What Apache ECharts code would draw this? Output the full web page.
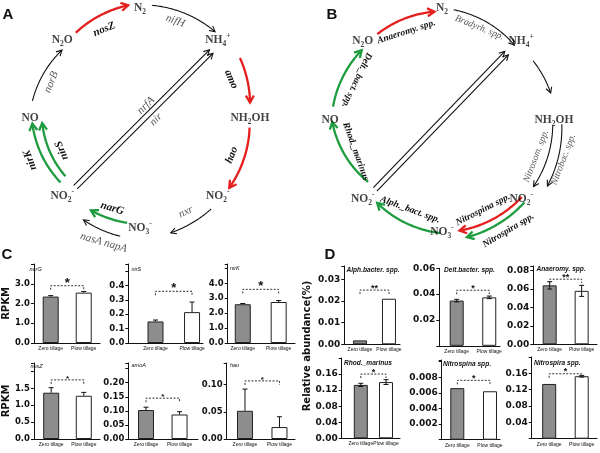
<!DOCTYPE html>
<html><head><meta charset="utf-8">
<script src="https://cdn.jsdelivr.net/npm/echarts@6/dist/echarts.min.js"></script>
<style>html,body{margin:0;padding:0;background:#fff}#c{width:600px;height:453px}</style>
</head><body><div id="c"></div>
<script>
// ================= DATA =================
const categories = ['Zero tillage', 'Plow tillage'];

// Panel C: functional genes (RPKM)
const geneNames   = ['narG', 'nirS', 'nirK', 'nosZ', 'amoA', 'hao'];
const geneZero    = [2.35, 0.15, 2.6, 1.37, 0.103, 0.052];
const geneZeroErr = [0.05, 0.01, 0.05, 0.15, 0.01, 0.04];
const genePlow    = [2.55, 0.215, 2.75, 1.28, 0.087, 0.022];
const genePlowErr = [0.06, 0.07, 0.1, 0.1, 0.01, 0.019];
const geneSig     = ['*', '*', '*', '*', '*', '*'];
const geneSigLevel= [2.9, 0.36, 3.6, 1.75, 0.145, 0.107];

// Panel D: taxa (relative abundance %)
const taxaNames   = ['Alph.bacter. spp.', 'Delt.bacter. spp.', 'Anaeromy. spp.', 'Rhod._marinus', 'Nitrospina spp.', 'Nitrospira spp.'];
const taxaZero    = [0.0018, 0.035, 0.064, 0.133, 0.0066, 0.134];
const taxaZeroErr = [0, 0.001, 0.004, 0.004, 0, 0];
const taxaPlow    = [0.021, 0.0375, 0.058, 0.14, 0.0062, 0.153];
const taxaPlowErr = [0, 0.001, 0.006, 0.006, 0, 0.002];
const taxaSig     = ['**', '*', '**', '*', '*', '*'];
const taxaSigLevel= [0.025, 0.043, 0.0707, 0.16, 0.0076, 0.159];

// Y-axis scales (max, interval, lowest and highest labelled tick, decimals)
const geneAxisMax = [4, 0.55, 5.3, 2.25, 0.27, 0.14];
const geneAxisStep= [1, 0.1, 1, 0.5, 0.05, 0.05];
const geneTickLo  = [0, 0, 0, 0, 0, 0];
const geneTickHi  = [3, 0.4, 4, 1.5, 0.2, 0.1];
const geneTickDec = [1, 1, 1, 1, 2, 2];
const taxaAxisMax = [0.0361, 0.06, 0.085, 0.2, 0.0102, 0.2];
const taxaAxisStep= [0.01, 0.02, 0.02, 0.04, 0.002, 0.04];
const taxaTickLo  = [0, 0.02, 0, 0, 0.002, 0.04];
const taxaTickHi  = [0.03, 0.06, 0.08, 0.16, 0.008, 0.16];
const taxaTickDec = [2, 2, 2, 2, 3, 2];

// Nitrogen cycle nodes (in cycle order, clockwise from top)
const cycleNodes = ['N{s|2}', 'NH{s|4}{p|+}', 'NH{s|2}OH', 'NO{s|2}{p|-}', 'NO{s|3}{p|-}', 'NO{s|2}{p|-}', 'NO', 'N{s|2}O'];

// Pathway edges, panel A (genes)
const edgesA = [
  {from: 7, to: 0, label: 'nosZ', tone: 'red'},
  {from: 0, to: 1, label: 'nifH', tone: 'black'},
  {from: 1, to: 2, label: 'amo', tone: 'red'},
  {from: 2, to: 3, label: 'hao', tone: 'red'},
  {from: 3, to: 4, label: 'nxr', tone: 'black'},
  {from: 4, to: 5, label: 'narG', tone: 'green'},
  {from: 4, to: 5, label: 'nasA napA', tone: 'black'},
  {from: 5, to: 6, label: 'nirK', tone: 'green'},
  {from: 5, to: 6, label: 'nirS', tone: 'green'},
  {from: 6, to: 7, label: 'norB', tone: 'black'},
  {from: 5, to: 1, label: 'nrfA', tone: 'black'},
  {from: 5, to: 1, label: 'nir', tone: 'black'}
];
// Pathway edges, panel B (taxa)
const edgesB = [
  {from: 7, to: 0, label: 'Anaeromy. spp.', tone: 'red'},
  {from: 0, to: 1, label: 'Bradyrh. spp.', tone: 'black'},
  {from: 1, to: 2, label: '', tone: 'black'},
  {from: 2, to: 3, label: 'Nitrosom. spp.', tone: 'black'},
  {from: 2, to: 3, label: 'Nitrobac. spp.', tone: 'black'},
  {from: 3, to: 4, label: 'Nitrospina spp.', tone: 'red'},
  {from: 3, to: 4, label: 'Nitrospira spp.', tone: 'green'},
  {from: 4, to: 5, label: 'Alph._bact. spp.', tone: 'green'},
  {from: 5, to: 6, label: 'Rhod._marinus', tone: 'green'},
  {from: 6, to: 7, label: 'Delt._bact. spp.', tone: 'green'},
  {from: 5, to: 1, label: '', tone: 'black'},
  {from: 5, to: 1, label: '', tone: 'black'}
];

// ================= LAYOUT / STYLE =================
const SERIF = "'Liberation Serif','Times New Roman',serif";
const SANS = "'Liberation Sans',Arial,sans-serif";
const TICKF = "'DejaVu Sans',sans-serif";
const toneColor = {red: '#e4201f', green: '#1f9c40', black: '#111'};

// arc geometry: angle offsets (deg) from the node angles, radii (fraction), label radius/angle shift/rotation
const layA = [
  {d1: 8, d2: -6, r1: 0.97, r2: 1.03, lr: 0.87, dl: -0.5, rot: 22},
  {d1: 6, d2: -4, r1: 1.03, r2: 1.04, lr: 0.94, dl: -3.5, rot: -20},
  {d1: 14, d2: -8, r1: 1.06, r2: 1.01, lr: 0.9, dl: -3.5, rot: -67},
  {d1: 5, d2: -7, r1: 1.0, r2: 1.03, lr: 0.9, dl: 0.5, rot: 68},
  {d1: 7, d2: -15, r1: 1.05, r2: 1.08, lr: 0.95, dl: 0.5, rot: 26},
  {d1: 7, d2: -17, r1: 0.96, r2: 0.95, lr: 0.86, dl: -0.5, rot: -17},
  {d1: 9.5, d2: -16, r1: 1.09, r2: 1.06, lr: 1.18, dl: -3, rot: -16},
  {d1: 6, d2: -3, r1: 0.93, r2: 0.98, lr: 1.07, dl: 0, rot: 111},
  {d1: 7, d2: -3, r1: 0.86, r2: 0.89, lr: 0.77, dl: -2, rot: 111},
  {d1: 9, d2: -4, r1: 0.99, r2: 0.94, lr: 0.87, dl: -3, rot: 68},
  {d1: -2, d2: 2, r1: 0.86, r2: 0.885, shift: 2.5, ln: 8, lu: 11.7, rot: 45},
  {d1: -2, d2: 2, r1: 0.86, r2: 0.885, shift: -2.5, ln: -9, lu: 8.8, rot: 45}
];
const layB = [
  {d1: 8, d2: -4, r1: 0.96, r2: 0.97, lr: 0.85, dl: -1.5, rot: 18},
  {d1: 6, d2: -1, r1: 0.99, r2: 0.93, lr: 0.89, dl: -3, rot: -22},
  {d1: 12, d2: -14, r1: 0.97, r2: 1.0},
  {d1: 3, d2: -9, r1: 0.99, r2: 1.01, lr: 0.9, dl: 1.5, rot: 69},
  {d1: 2, d2: -13, r1: 1.07, r2: 1.11, lr: 1.14, dl: 1, rot: 69},
  {d1: -1, d2: -9, r1: 0.99, r2: 1.0, lr: 0.88, dl: 3, rot: 27},
  {d1: 0, d2: -12, r1: 1.04, r2: 1.07, lr: 1.15, dl: -2.5, rot: 31},
  {d1: 1, d2: -7, r1: 1.01, r2: 0.94, lr: 0.85, dl: 0, rot: -20},
  {d1: 5, d2: -1, r1: 0.86, r2: 0.98, lr: 0.82, dl: 0.5, rot: -70},
  {d1: 7, d2: -4, r1: 0.98, r2: 0.95, lr: 0.84, dl: 1, rot: -115},
  {d1: -1, d2: -1, r1: 0.86, r2: 0.83, shift: 2.5},
  {d1: -1, d2: -1, r1: 0.86, r2: 0.83, shift: -2.5}
];

// grid boxes: [left(axis x), top, width, height, xMin, xMax]
const geneBox = [
  [27, 264, 73, 79, -0.507, 1.493],
  [128.3, 264, 74.7, 79, -0.745, 1.30],
  [227.7, 264, 67.3, 79, -0.42, 1.455],
  [26.7, 363, 73.3, 76, -0.528, 1.497],
  [128.3, 363, 69.7, 76, -0.528, 1.55],
  [226.7, 363, 68.3, 76, -0.53, 1.45]
];
const taxaBox = [
  [344.3, 266, 55.7, 78.3, -0.541, 1.38],
  [439.3, 268.3, 60.7, 77.5, -0.534, 1.33],
  [533.3, 266, 63.7, 78.3, -0.5125, 1.48],
  [341.7, 358, 58.3, 80.3, -0.758, 1.555],
  [441.7, 360, 58.3, 79.7, -0.477, 1.306],
  [531.7, 357, 65.3, 81.7, -0.538, 1.47]
];
const geneTitlePos = [[29.5, 269], [131.5, 269], [230, 268], [30.5, 366], [131.5, 365], [230, 365]];
const taxaTitlePos = [[346.5, 270], [444, 270], [536.5, 269], [344, 363.5], [443, 364.5], [534, 363.5]];

// ================= BUILD =================
const option = {
  animation: false,
  backgroundColor: '#fff',
  polar: [{center: [140, 118], radius: 110}, {center: [442, 120], radius: 112}],
  angleAxis: [0, 1].map(i => ({polarIndex: i, type: 'value', min: 0, max: 360, startAngle: 90, clockwise: true, show: false})),
  radiusAxis: [0, 1].map(i => ({polarIndex: i, type: 'value', min: 0, max: 1, show: false})),
  grid: [], xAxis: [], yAxis: [], series: [], graphic: []
};

const nodeAngle = i => i * 360 / cycleNodes.length;

function cycleSeries(pi, edges, lay, fontSize) {
  return {
    type: 'custom', coordinateSystem: 'polar', polarIndex: pi, silent: true, z: 2,
    data: edges.map(e => [1, nodeAngle(e.from)]),
    renderItem(params, api) {
      const e = edges[params.dataIndex], L = lay[params.dataIndex];
      const col = toneColor[e.tone];
      const heavy = e.tone !== 'black';
      const lw = heavy ? 2.3 : 1.1;
      const a1 = nodeAngle(e.from) + L.d1;
      let a2 = nodeAngle(e.to) + L.d2;
      let pts = [];
      const children = [];
      let labelPos = null;
      if (L.shift !== undefined) {
        const p = api.coord([L.r1, a1]), q = api.coord([L.r2, a2]);
        const dx = q[0] - p[0], dy = q[1] - p[1], len = Math.hypot(dx, dy);
        const ux = dx / len, uy = dy / len, nx = uy, ny = -ux;
        pts = [[p[0] + nx * L.shift, p[1] + ny * L.shift], [q[0] + nx * L.shift, q[1] + ny * L.shift]];
        if (e.label) {
          const mx = (p[0] + q[0]) / 2, my = (p[1] + q[1]) / 2;
          labelPos = [mx + nx * L.ln + ux * L.lu, my + ny * L.ln + uy * L.lu];
        }
      } else {
        if (a2 <= a1) a2 += 360;
        const n = 48;
        for (let k = 0; k <= n; k++) {
          const t = k / n;
          const c = api.coord([L.r1 + (L.r2 - L.r1) * t, a1 + (a2 - a1) * t]);
          pts.push([c[0], c[1]]);
        }
        if (e.label) {
          const c = api.coord([L.lr, (a1 + a2) / 2 + (L.dl || 0)]);
          labelPos = [c[0], c[1]];
        }
      }
      children.push({type: 'polyline', shape: {points: pts}, style: {stroke: col, lineWidth: lw, fill: null}});
      const P = pts[pts.length - 1], Q = pts[Math.max(0, pts.length - 3)];
      let dx = P[0] - Q[0], dy = P[1] - Q[1];
      const dl = Math.hypot(dx, dy); dx /= dl; dy /= dl;
      const al = heavy ? 7 : 5.5, aw = heavy ? 4 : 3;
      children.push({type: 'polyline', shape: {points: [
        [P[0] - dx * al - dy * aw, P[1] - dy * al + dx * aw], [P[0], P[1]], [P[0] - dx * al + dy * aw, P[1] - dy * al - dx * aw]
      ]}, style: {stroke: col, lineWidth: lw, fill: null, lineJoin: 'miter'}});
      if (labelPos) {
        children.push({type: 'text', x: labelPos[0], y: labelPos[1], rotation: L.rot * Math.PI / 180,
          style: {text: e.label, font: (heavy ? 'italic bold ' : 'italic ') + fontSize + 'px ' + SERIF,
            fill: heavy ? '#111' : '#555', align: 'center', verticalAlign: 'middle'}});
      }
      return {type: 'group', children};
    }
  };
}

function nodeSeries(pi) {
  return {
    type: 'scatter', coordinateSystem: 'polar', polarIndex: pi, silent: true, z: 3,
    symbolSize: 1, itemStyle: {color: 'rgba(0,0,0,0)'},
    data: cycleNodes.map((n, i) => [1, nodeAngle(i)]),
    label: {
      show: true, position: 'inside', color: '#111',
      formatter: p => cycleNodes[p.dataIndex],
      fontFamily: SERIF, fontWeight: 'bold', fontSize: 11.5, lineHeight: 16,
      rich: {
        s: {fontFamily: SERIF, fontWeight: 'bold', fontSize: 7.5, lineHeight: 8, verticalAlign: 'bottom', color: '#111'},
        p: {fontFamily: SERIF, fontWeight: 'bold', fontSize: 7.5, lineHeight: 8, verticalAlign: 'top', color: '#111'}
      }
    }
  };
}

option.series.push(cycleSeries(0, edgesA, layA, 11));
option.series.push(cycleSeries(1, edgesB, layB, 9.5));
option.series.push(nodeSeries(0));
option.series.push(nodeSeries(1));

function addBarChart(cfg) {
  const gi = option.grid.length;
  const b = cfg.box;
  option.grid.push({left: b[0], top: b[1], width: b[2], height: b[3]});
  option.xAxis.push({gridIndex: gi, type: 'value', min: b[4], max: b[5],
    axisLine: {show: true, onZero: false, lineStyle: {color: '#111', width: 1}},
    axisTick: {show: false}, axisLabel: {show: false}, splitLine: {show: false}});
  option.yAxis.push({gridIndex: gi, type: 'value', min: 0, max: cfg.max, interval: cfg.step,
    axisLine: {show: true, onZero: false, lineStyle: {color: '#111', width: 1}},
    axisTick: {show: true, length: 3, lineStyle: {color: '#111'}},
    splitLine: {show: false},
    axisLabel: {margin: 4, color: '#111', fontFamily: TICKF, fontWeight: 'bold', fontSize: cfg.tickSize,
      showMaxLabel: true, showMinLabel: true,
      formatter: v => (v < cfg.lo - 1e-9 || v > cfg.hi + 1e-9) ? '' : v.toFixed(cfg.dec)}});
  option.series.push({type: 'bar', xAxisIndex: gi, yAxisIndex: gi, barWidth: cfg.barWidth, z: 2,
    data: [{value: [0, cfg.zero], itemStyle: {color: '#8d8d8d'}}, {value: [1, cfg.plow], itemStyle: {color: '#ffffff'}}],
    itemStyle: {borderColor: '#222', borderWidth: 1},
    label: {show: true, position: 'bottom', distance: 3, color: '#111', fontFamily: SANS, fontSize: 5,
      formatter: p => categories[p.dataIndex]}});
  option.series.push({type: 'custom', xAxisIndex: gi, yAxisIndex: gi, z: 4, silent: true,
    data: [[0, cfg.zero, cfg.zeroErr], [1, cfg.plow, cfg.plowErr]],
    renderItem(params, api) {
      const err = api.value(2);
      if (!err) return null;
      const x = api.value(0), v = api.value(1);
      const top = api.coord([x, v + err]);
      const bot = api.coord([x, cfg.both ? v - err : v]);
      const ch = [
        {type: 'line', shape: {x1: top[0], y1: top[1], x2: bot[0], y2: bot[1]}, style: {stroke: '#111', lineWidth: 1}},
        {type: 'line', shape: {x1: top[0] - 2.5, y1: top[1], x2: top[0] + 2.5, y2: top[1]}, style: {stroke: '#111', lineWidth: 1}}
      ];
      if (cfg.both) ch.push({type: 'line', shape: {x1: bot[0] - 2.5, y1: bot[1], x2: bot[0] + 2.5, y2: bot[1]}, style: {stroke: '#111', lineWidth: 1}});
      return {type: 'group', children: ch};
    }});
  option.series.push({type: 'custom', xAxisIndex: gi, yAxisIndex: gi, z: 4, silent: true,
    data: [[0, cfg.sigLevel]],
    renderItem(params, api) {
      const y = api.value(1);
      const a = api.coord([0, y]), c = api.coord([1, y]);
      return {type: 'group', children: [
        {type: 'polyline', shape: {points: [[a[0], a[1] + 4], [a[0], a[1]], [c[0], c[1]], [c[0], c[1] + 4]]},
          style: {stroke: '#333', lineWidth: 1, lineDash: [2, 1.5], fill: null}},
        {type: 'text', x: (a[0] + c[0]) / 2, y: a[1] + cfg.starDy,
          style: {text: cfg.sig, font: 'bold ' + cfg.starSize + 'px ' + SANS, fill: '#111', align: 'center', verticalAlign: 'middle'}}
      ]};
    }});
  option.graphic.push({type: 'text', x: cfg.titlePos[0], y: cfg.titlePos[1], silent: true,
    style: {text: cfg.title, font: cfg.titleFont, fill: '#111', verticalAlign: 'middle'}});
}

geneNames.forEach((g, i) => addBarChart({
  box: geneBox[i], max: geneAxisMax[i], step: geneAxisStep[i], lo: geneTickLo[i], hi: geneTickHi[i], dec: geneTickDec[i],
  zero: geneZero[i], zeroErr: geneZeroErr[i], plow: genePlow[i], plowErr: genePlowErr[i],
  sig: geneSig[i], sigLevel: geneSigLevel[i], both: false, barWidth: 16, tickSize: 8.5,
  starSize: i < 3 ? 13 : 8, starDy: i < 3 ? -2.5 : -1.5,
  title: g, titlePos: geneTitlePos[i], titleFont: 'italic 5.5px ' + SANS
}));
taxaNames.forEach((t, i) => addBarChart({
  box: taxaBox[i], max: taxaAxisMax[i], step: taxaAxisStep[i], lo: taxaTickLo[i], hi: taxaTickHi[i], dec: taxaTickDec[i],
  zero: taxaZero[i], zeroErr: taxaZeroErr[i], plow: taxaPlow[i], plowErr: taxaPlowErr[i],
  sig: taxaSig[i], sigLevel: taxaSigLevel[i], both: true, barWidth: 14, tickSize: 9,
  starSize: 9, starDy: -2,
  title: t, titlePos: taxaTitlePos[i], titleFont: 'italic bold 6.6px ' + SANS
}));

// axis names and panel letters
option.yAxis[0].name = 'RPKM';
option.yAxis[3].name = 'RPKM';
[0, 3].forEach(k => Object.assign(option.yAxis[k], {nameLocation: 'middle', nameRotate: 90, nameGap: 19,
  nameTextStyle: {fontFamily: TICKF, fontWeight: 'bold', fontSize: 10, color: '#111'}}));
option.graphic.push({type: 'text', x: 307, y: 346, rotation: Math.PI / 2, silent: true,
  style: {text: 'Relative abundance(%)', font: 'bold 10px ' + TICKF, fill: '#111', align: 'center', verticalAlign: 'middle'}});
[['A', 8, 15], ['B', 332, 15], ['C', 7, 255], ['D', 330, 255]].forEach(([t, x, y]) =>
  option.graphic.push({type: 'text', x, y, silent: true,
    style: {text: t, font: 'bold 15px ' + SANS, fill: '#111', align: 'center', verticalAlign: 'middle'}}));

const chart = echarts.init(document.getElementById('c'));
chart.setOption(option);
</script>
</body></html>
